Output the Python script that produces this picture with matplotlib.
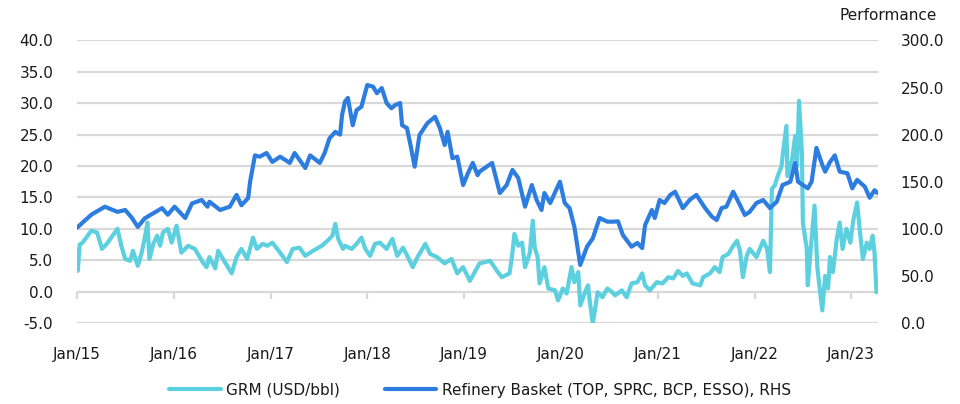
import matplotlib
matplotlib.use("Agg")
import matplotlib.pyplot as plt
import matplotlib.dates as mdates
from matplotlib.ticker import MultipleLocator, FormatStrFormatter
import numpy as np
import pandas as pd

plt.rcParams['font.family'] = ['DejaVu Sans']

# ---- data (dates as decimal years) ----
grm_t = [2015.00, 2015.01, 2015.03, 2015.06, 2015.15, 2015.21, 2015.26, 2015.31, 2015.37, 2015.42,
         2015.46, 2015.50, 2015.55, 2015.58, 2015.63, 2015.67, 2015.70, 2015.73, 2015.75, 2015.79,
         2015.83, 2015.86, 2015.89, 2015.94, 2015.98, 2016.03, 2016.08, 2016.15, 2016.22, 2016.30,
         2016.34, 2016.37, 2016.43, 2016.46, 2016.53, 2016.60, 2016.65, 2016.70, 2016.76, 2016.82,
         2016.86, 2016.92, 2016.97, 2017.02, 2017.10, 2017.17, 2017.23, 2017.30, 2017.36, 2017.44,
         2017.53, 2017.59, 2017.64, 2017.67, 2017.70, 2017.75, 2017.77, 2017.84, 2017.89, 2017.94,
         2017.98, 2018.03, 2018.08, 2018.13, 2018.20, 2018.26, 2018.31, 2018.37, 2018.42, 2018.47,
         2018.52, 2018.60, 2018.65, 2018.72, 2018.80, 2018.87, 2018.93, 2018.99, 2019.06, 2019.11,
         2019.16, 2019.27, 2019.34, 2019.39, 2019.47, 2019.50, 2019.52, 2019.56, 2019.60, 2019.63,
         2019.68, 2019.71, 2019.73, 2019.76, 2019.78, 2019.83, 2019.87, 2019.94, 2019.97, 2020.02,
         2020.06, 2020.11, 2020.14, 2020.18, 2020.20, 2020.25, 2020.28, 2020.30, 2020.33, 2020.38,
         2020.43, 2020.48, 2020.53, 2020.56, 2020.63, 2020.68, 2020.73, 2020.79, 2020.84, 2020.87,
         2020.92, 2020.99, 2021.05, 2021.11, 2021.16, 2021.21, 2021.26, 2021.30, 2021.36, 2021.44,
         2021.47, 2021.54, 2021.59, 2021.64, 2021.67, 2021.73, 2021.78, 2021.82, 2021.85, 2021.88,
         2021.92, 2021.95, 2022.02, 2022.09, 2022.13, 2022.16, 2022.18, 2022.21, 2022.24, 2022.28,
         2022.29, 2022.33, 2022.34, 2022.39, 2022.42, 2022.44, 2022.46, 2022.49, 2022.50, 2022.54,
         2022.55, 2022.59, 2022.62, 2022.65, 2022.70, 2022.73, 2022.76, 2022.78, 2022.81, 2022.85,
         2022.88, 2022.91, 2022.95, 2022.99, 2023.02, 2023.06, 2023.09, 2023.12, 2023.16, 2023.19,
         2023.22, 2023.24, 2023.26, 2023.27]
grm_v = [6.5, 3.3, 7.5, 7.8, 9.7, 9.4, 6.8, 7.6, 8.9, 10.0,
         7.3, 5.2, 4.9, 6.5, 4.1, 6.2, 8.4, 11.0, 5.2, 7.6,
         8.9, 7.3, 9.4, 10.0, 7.8, 10.5, 6.2, 7.3, 6.8, 4.7,
         3.9, 5.5, 3.7, 6.5, 4.7, 2.9, 5.5, 6.8, 5.2, 8.6,
         6.8, 7.6, 7.3, 7.8, 6.2, 4.7, 6.8, 7.0, 5.7, 6.5,
         7.3, 8.1, 8.9, 10.8, 8.4, 6.8, 7.3, 6.8, 7.6, 8.6,
         6.8, 5.7, 7.6, 7.8, 6.8, 8.4, 5.7, 7.0, 5.5, 3.9,
         5.5, 7.6, 6.0, 5.5, 4.5, 5.2, 2.9, 3.9, 1.7, 3.1,
         4.5, 4.9, 3.3, 2.3, 2.9, 6.2, 9.2, 7.3, 7.8, 3.9,
         6.2, 11.3, 7.0, 5.5, 1.3, 3.9, 0.5, 0.2, -1.4, 0.5,
         -0.3, 3.9, 1.5, 3.1, -2.2, -0.1, 1.0, -1.7, -5.1, -0.1,
         -0.9, 0.5, -0.1, -0.6, 0.2, -0.9, 1.3, 1.5, 2.9, 1.0,
         0.2, 1.5, 1.3, 2.3, 2.1, 3.3, 2.5, 2.9, 1.3, 1.0,
         2.3, 2.9, 3.9, 3.1, 5.5, 6.0, 7.3, 8.1, 6.5, 2.3,
         5.7, 6.8, 5.5, 8.1, 6.8, 3.1, 16.4, 16.9, 18.4, 20.0,
         21.6, 26.4, 18.4, 21.1, 24.8, 20.0, 30.4, 22.1, 11.0, 6.8,
         1.0, 8.4, 13.7, 3.7, -3.0, 2.5, 0.5, 5.5, 3.1, 8.4,
         11.0, 6.8, 10.0, 7.8, 11.3, 14.2, 9.4, 5.2, 7.8, 6.8,
         8.9, 6.2, -0.1, -0.1]

basket_t = [2015.00, 2015.15, 2015.29, 2015.42, 2015.50, 2015.57, 2015.63, 2015.70, 2015.88, 2015.94,
            2016.01, 2016.12, 2016.19, 2016.29, 2016.35, 2016.37, 2016.48, 2016.58, 2016.65, 2016.70,
            2016.77, 2016.79, 2016.84, 2016.89, 2016.96, 2017.02, 2017.10, 2017.20, 2017.25, 2017.36,
            2017.41, 2017.51, 2017.56, 2017.61, 2017.67, 2017.72, 2017.74, 2017.77, 2017.80, 2017.85,
            2017.89, 2017.94, 2018.00, 2018.06, 2018.10, 2018.15, 2018.20, 2018.25, 2018.29, 2018.34,
            2018.36, 2018.41, 2018.44, 2018.49, 2018.54, 2018.62, 2018.70, 2018.75, 2018.80, 2018.83,
            2018.88, 2018.93, 2018.99, 2019.04, 2019.09, 2019.14, 2019.16, 2019.29, 2019.37, 2019.44,
            2019.50, 2019.56, 2019.63, 2019.70, 2019.75, 2019.80, 2019.83, 2019.89, 2019.99, 2020.04,
            2020.09, 2020.14, 2020.20, 2020.27, 2020.33, 2020.40, 2020.48, 2020.54, 2020.59, 2020.64,
            2020.73, 2020.79, 2020.84, 2020.87, 2020.94, 2020.97, 2021.02, 2021.07, 2021.13, 2021.18,
            2021.26, 2021.33, 2021.40, 2021.49, 2021.56, 2021.61, 2021.66, 2021.71, 2021.78, 2021.85,
            2021.90, 2021.95, 2022.02, 2022.09, 2022.16, 2022.23, 2022.29, 2022.37, 2022.42, 2022.45,
            2022.50, 2022.55, 2022.59, 2022.64, 2022.70, 2022.73, 2022.78, 2022.83, 2022.88, 2022.96,
            2023.01, 2023.06, 2023.14, 2023.19, 2023.24, 2023.27]
basket_v = [101, 115, 123.5, 118, 120, 111.5, 102, 111, 122, 115,
            123.5, 111.5, 127, 130.6, 123.5, 128.8, 120, 123.5, 136, 125,
            132.7, 150, 178, 176.6, 180.5, 171, 176.6, 170, 180.5, 164.6,
            178, 170, 180.5, 196, 203, 200, 221, 235, 239, 210,
            226, 229.7, 252.7, 251, 244, 249.5, 233.6, 228, 231.5, 233.6,
            210, 207, 192.5, 166, 199.6, 212, 219, 207, 189, 203,
            175, 176.6, 146.5, 159, 170, 157, 160.7, 170, 138, 146.5,
            162.5, 154, 123.5, 146.5, 130.6, 120, 138, 127.4, 150, 127.4,
            122, 102, 61.6, 81, 90, 111.5, 107.6, 107.6, 108, 93.5,
            81, 85, 79.6, 104, 120, 111.5, 130.6, 127.4, 136, 139.4,
            122, 130.6, 136, 122, 112.9, 109.4, 122, 123.5, 139.4, 125.3,
            114.7, 118, 127.4, 130.6, 122, 128.8, 146.5, 150, 170, 150,
            146.5, 143, 150, 186, 168, 160.7, 171, 178, 160.7, 159,
            143, 152, 144.7, 133, 141, 138]

grm_label = "GRM (USD/bbl)"
basket_label = "Refinery Basket (TOP, SPRC, BCP, ESSO), RHS"
right_title = "Performance"


def to_dates(years):
    y = np.asarray(years, dtype=float)
    return pd.Timestamp("2015-01-01") + pd.to_timedelta((y - 2015.0) * 365.25, unit="D")


grm_d = to_dates(grm_t)
basket_d = to_dates(basket_t)

c_grm = "#5DD0DF"
c_basket = "#2D7DE0"
grid_c = "#D9D9D9"
txt_c = "#1a1a1a"

fig = plt.figure(figsize=(9.6, 4.04), dpi=100)
ax = fig.add_axes([0.080, 0.2005, 0.835, 0.6993])
ax2 = ax.twinx()

l1, = ax.plot(grm_d, grm_v, color=c_grm, lw=3.0, solid_joinstyle="round", solid_capstyle="round")
l2, = ax2.plot(basket_d, basket_v, color=c_basket, lw=3.0, solid_joinstyle="round", solid_capstyle="round")

ax.set_ylim(-5, 40)
ax2.set_ylim(0, 300)
ax.yaxis.set_major_locator(MultipleLocator(5))
ax2.yaxis.set_major_locator(MultipleLocator(50))
ax.yaxis.set_major_formatter(FormatStrFormatter("%.1f"))
ax2.yaxis.set_major_formatter(FormatStrFormatter("%.1f"))

x0 = to_dates([2015.0])[0]
x1 = to_dates([2023.28])[0]
ax.set_xlim(x0, x1)
ax.xaxis.set_major_locator(mdates.YearLocator(1, month=1, day=1))
ax.xaxis.set_major_formatter(mdates.DateFormatter("%b/%y"))

ax.grid(axis="y", color=grid_c, lw=1.6)
ax.set_axisbelow(True)
for a in (ax, ax2):
    for s in a.spines.values():
        s.set_visible(False)

ax.tick_params(axis="y", length=0, pad=17, labelsize=11, labelcolor=txt_c)
ax2.tick_params(axis="y", length=0, pad=16, labelsize=11, labelcolor=txt_c)
ax.tick_params(axis="x", length=0, pad=17, labelsize=11, labelcolor=txt_c)

# category axis line at y = 0 with tick marks
sec = ax.secondary_xaxis(5 / 45)
sec.xaxis.set_major_locator(mdates.YearLocator(1, month=1, day=1))
sec.spines["bottom"].set_visible(False)
sec.tick_params(axis="x", direction="out", length=5, width=1.6, color=grid_c, labelbottom=False)

fig.text(937 / 960, 1 - 15 / 404, right_title, ha="right", va="center", fontsize=11, color=txt_c)

fig.legend([l1, l2], [grm_label, basket_label], loc="center", bbox_to_anchor=(0.5, 1 - 390 / 404),
           ncol=2, frameon=False, fontsize=11, handlelength=3.4, handletextpad=0.35,
           columnspacing=2.9, labelcolor=txt_c)

fig.savefig("out.png", dpi=100)
